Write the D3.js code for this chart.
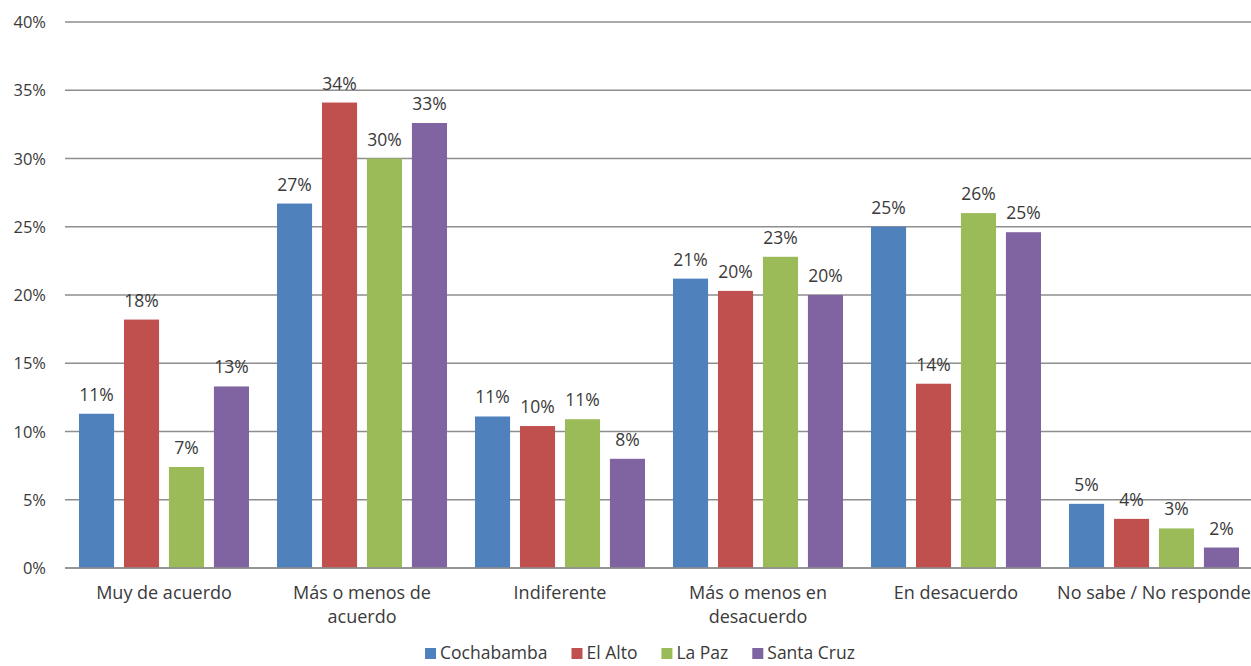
<!DOCTYPE html>
<html><head><meta charset="utf-8">
<script src="https://cdn.jsdelivr.net/npm/d3@7"></script>
<style>html,body{margin:0;padding:0;background:#fff;}svg{display:block;}</style>
</head><body>
<svg id="chart" width="1251" height="666"></svg>
<script>
const categories = [["Muy de acuerdo"], ["Más o menos de", "acuerdo"], ["Indiferente"], ["Más o menos en", "desacuerdo"], ["En desacuerdo"], ["No sabe / No responde"]];
const seriesNames = ["Cochabamba", "El Alto", "La Paz", "Santa Cruz"];
const cochabamba = [11.3, 26.7, 11.1, 21.2, 25.0, 4.7];
const elAlto     = [18.2, 34.1, 10.4, 20.3, 13.5, 3.6];
const laPaz      = [7.4, 30.0, 10.9, 22.8, 26.0, 2.9];
const santaCruz  = [13.3, 32.6, 8.0, 20.0, 24.6, 1.5];
const yTicks = [0, 5, 10, 15, 20, 25, 30, 35, 40];
const colors = ["#4F81BD", "#C0504D", "#9BBB59", "#8064A2"];

const series = [cochabamba, elAlto, laPaz, santaCruz];
const svg = d3.select("#chart");
const font = "'Open Sans', sans-serif";
const textColor = "#3a3a3a";
const margin = {left: 65, right: -2, top: 22, bottom: 98};
const W = 1251, H = 666;

const x0 = d3.scaleBand().domain(d3.range(categories.length)).range([margin.left, W - margin.right]).paddingInner(0).paddingOuter(0);
const x1 = d3.scaleBand().domain(d3.range(series.length)).range([14, x0.bandwidth() - 14]).paddingInner(0.22).paddingOuter(0);
const y = d3.scaleLinear().domain([0, 40]).range([H - margin.bottom, margin.top]);

// gridlines
svg.append("g").selectAll("line").data(yTicks).join("line")
  .attr("x1", margin.left).attr("x2", W)
  .attr("y1", d => y(d)).attr("y2", d => y(d))
  .attr("stroke", "#8e8e8e").attr("stroke-width", 1.6);

// y labels
svg.append("g").selectAll("text").data(yTicks).join("text")
  .attr("x", 46).attr("y", d => y(d) + 6)
  .attr("text-anchor", "end")
  .attr("font-family", font).attr("font-size", 16.5).attr("fill", textColor)
  .text(d => d + "%");

// bars
const groups = svg.append("g").selectAll("g").data(categories).join("g")
  .attr("transform", (d, i) => `translate(${x0(i)},0)`);
groups.each(function(c, ci) {
  const g = d3.select(this);
  series.forEach((s, si) => {
    g.append("rect")
      .attr("x", x1(si)).attr("width", x1.bandwidth())
      .attr("y", y(s[ci])).attr("height", y(0) - y(s[ci]))
      .attr("fill", colors[si]);
    g.append("text")
      .attr("x", x1(si) + x1.bandwidth() / 2).attr("y", y(s[ci]) - 13)
      .attr("text-anchor", "middle")
      .attr("font-family", font).attr("font-size", 17.5).attr("fill", textColor)
      .text(Math.round(s[ci]) + "%");
  });
  // category label
  const t = g.append("text")
    .attr("text-anchor", "middle")
    .attr("font-family", font).attr("font-size", 18).attr("fill", textColor);
  c.forEach((line, li) => {
    t.append("tspan").attr("x", x0.bandwidth() / 2).attr("y", y(0) + 31 + li * 24).text(line);
  });
});

// baseline
svg.append("line").attr("x1", margin.left).attr("x2", W).attr("y1", y(0)).attr("y2", y(0))
  .attr("stroke", "#8e8e8e").attr("stroke-width", 1.6);

// legend
const leg = svg.append("g");
let lx = 0;
seriesNames.forEach((n, i) => {
  const it = leg.append("g");
  it.append("rect").attr("x", 0).attr("y", -11).attr("width", 11).attr("height", 11).attr("fill", colors[i]);
  const tx = it.append("text").attr("x", 15).attr("y", 0)
    .attr("font-family", font).attr("font-size", 17.5).attr("fill", textColor).text(n);
  const w = 15 + tx.node().getComputedTextLength();
  it.attr("transform", `translate(${lx},0)`);
  lx += w + 24;
});
const totalW = lx - 24;
leg.attr("transform", `translate(${640 - totalW / 2},659)`);
</script>
</body></html>
